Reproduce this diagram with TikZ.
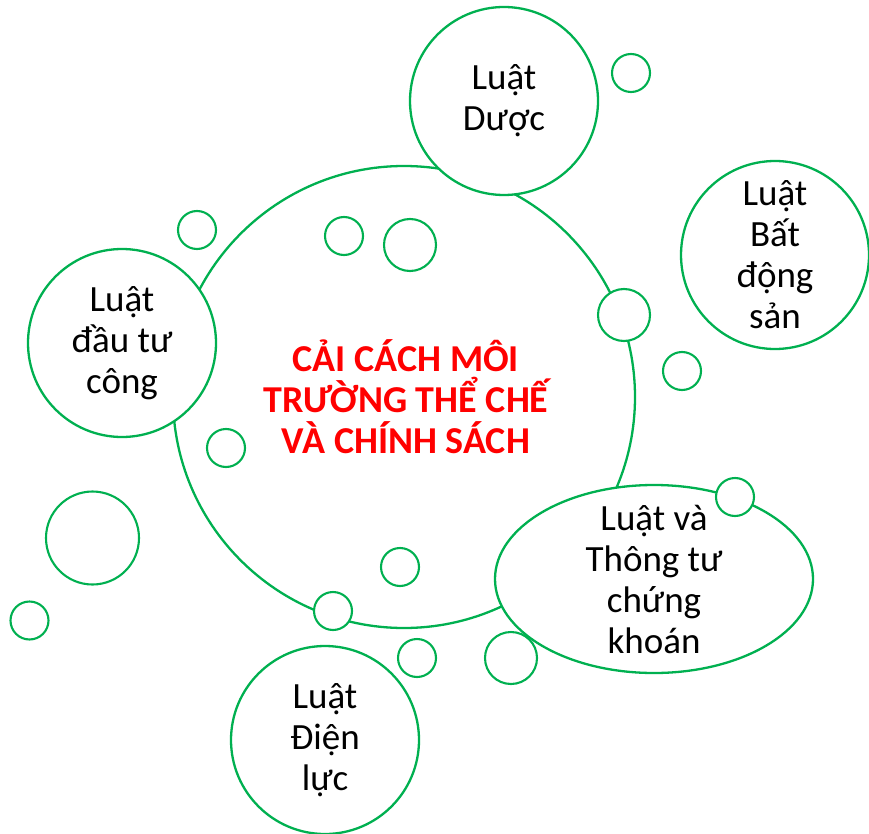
\documentclass[tikz,border=0pt]{standalone}
\usepackage{fontspec}
\setmainfont{Carlito}
\usetikzlibrary{shapes.geometric}
\definecolor{gline}{RGB}{0,176,80}
\definecolor{tred}{RGB}{255,0,0}
\tikzset{
  bubble/.style={circle,draw=gline,line width=2.3pt,fill=white,inner sep=0pt,minimum size=#1},
  dot/.style={circle,draw=gline,line width=2.1pt,fill=white,inner sep=0pt,minimum size=#1},
  oval/.style={ellipse,draw=gline,line width=2.3pt,fill=white,inner sep=0pt,minimum width=318pt,minimum height=188pt},
  lbl/.style={align=center,inner sep=0pt,font=\fontsize{37}{41}\selectfont},
  ttl/.style={align=center,inner sep=0pt,text=tred,font=\bfseries\fontsize{38}{41}\selectfont}
}
\begin{document}
\begin{tikzpicture}[x=1pt,y=-1pt]
\useasboundingbox (0,0) rectangle (869,834);
% central
\node[bubble=462pt] (center) at (404,397) {};
% satellites
\node[bubble=188pt] (duoc) at (504,101) {};
\node[bubble=188pt] (bds) at (775,255) {};
\node[bubble=188pt] (dautu) at (122,343) {};
\node[oval] (ck) at (654,579) {};
\node[bubble=188pt] (dien) at (325,740) {};
% small circles
\node[dot=38pt] (s1) at (631,73) {};
\node[dot=38pt] (s2) at (197,230) {};
\node[dot=38pt] (s3) at (344,236) {};
\node[dot=52pt] (s4) at (410,245) {};
\node[dot=52pt] (s5) at (624,315) {};
\node[dot=38pt] (s6) at (682,371) {};
\node[dot=38pt] (s7) at (226,448) {};
\node[dot=93pt] (s8) at (92.5,538) {};
\node[dot=38pt] (s9) at (29.5,620.5) {};
\node[dot=38pt] (s10) at (400,567) {};
\node[dot=38pt] (s11) at (735,497) {};
\node[dot=38pt] (s12) at (333,611) {};
\node[dot=38pt] (s13) at (417,658) {};
\node[dot=52pt] (s14) at (511,658) {};
% texts
\node[ttl] (tcenter) at (406,397) {CẢI CÁCH MÔI\\TRƯỜNG THỂ CHẾ\\VÀ CHÍNH SÁCH};
\node[lbl] (tduoc) at (duoc.center) {Luật\\Dược};
\node[lbl] (tbds) at (bds.center) {Luật\\Bất\\động\\sản};
\node[lbl] (tdautu) at (dautu.center) {Luật\\đầu tư\\công};
\node[lbl] (tck) at (ck.center) {Luật và\\Thông tư\\chứng\\khoán};
\node[lbl] (tdien) at (dien.center) {Luật\\Điện\\lực};
\end{tikzpicture}
\end{document}
